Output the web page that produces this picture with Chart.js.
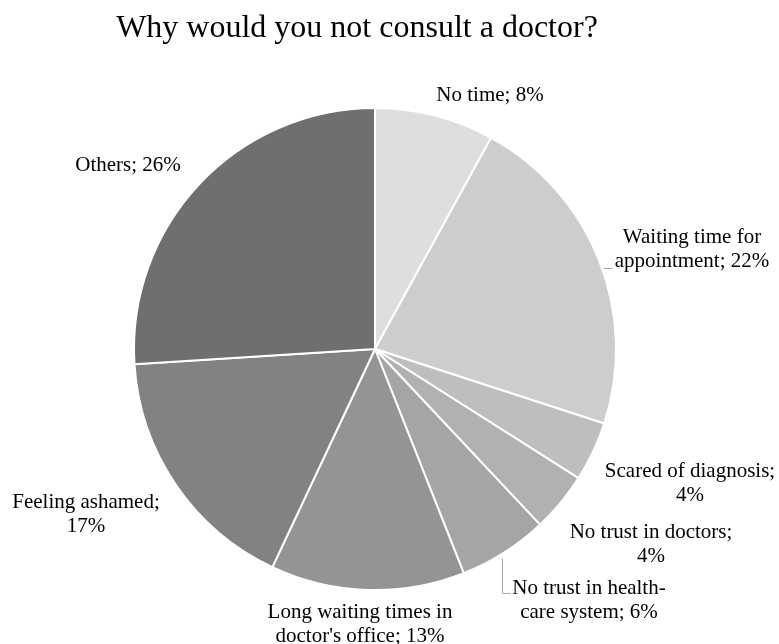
<!DOCTYPE html>
<html>
<head>
<meta charset="utf-8">
<title>Why would you not consult a doctor?</title>
<script src="https://cdn.jsdelivr.net/npm/chart.js@4.4.1/dist/chart.umd.min.js"></script>
<style>
  html, body { margin: 0; padding: 0; background: #fff; }
  #wrap { width: 779px; height: 644px; position: relative; }
</style>
</head>
<body>
<div id="wrap"><canvas id="pieChart"></canvas></div>
<script>
// =================== DATA ===================
const categories = [
  "No time",
  "Waiting time for appointment",
  "Scared of diagnosis",
  "No trust in doctors",
  "No trust in health-care system",
  "Long waiting times in doctor's office",
  "Feeling ashamed",
  "Others"
];
const shares = [8, 22, 4, 4, 6, 13, 17, 26];
const sliceColors = ["#dedede", "#cdcdcd", "#bebebe", "#b1b1b1", "#a5a5a5", "#949494", "#828282", "#6f6f6f"];

const chartTitle = "Why would you not consult a doctor?";

// label placement (text centre, first line), wrap width, optional leader line
const labelLayout = [
  { x: 490, y: 95,  wrap: 200 },
  { x: 692, y: 237, wrap: 165, leader: [[603, 268], [612, 268]] },
  { x: 690, y: 471, wrap: 175 },
  { x: 651, y: 532, wrap: 175 },
  { x: 589, y: 588, wrap: 160, leader: [[502, 558], [502, 593], [510, 593]] },
  { x: 360, y: 612, wrap: 195 },
  { x: 86,  y: 502, wrap: 170 },
  { x: 128, y: 165, wrap: 200 }
];

const FONT = "'Liberation Serif', 'Times New Roman', serif";

// wrap at spaces, and after hyphens like Excel does
function wrapText(ctx, text, maxWidth) {
  const tokens = text.match(/[^\s-]+-?|\s+/g);
  const lines = [];
  let line = "";
  tokens.forEach(tok => {
    if (/^\s+$/.test(tok)) {
      line += tok;
      return;
    }
    const test = line + tok;
    if (line.trim() && ctx.measureText(test.trim()).width > maxWidth) {
      lines.push(line.trim());
      line = tok;
    } else {
      line = test;
    }
  });
  if (line.trim()) lines.push(line.trim());
  return lines;
}

// =================== LABELS PLUGIN ===================
const labelsPlugin = {
  id: "pieLabels",
  afterDraw(chart) {
    const ctx = chart.ctx;
    ctx.save();

    // title
    ctx.fillStyle = "#000";
    ctx.font = "32px " + FONT;
    ctx.textAlign = "center";
    ctx.textBaseline = "middle";
    ctx.fillText(chartTitle, 357, 29);

    // leader lines
    ctx.strokeStyle = "#a6a6a6";
    ctx.lineWidth = 1;
    labelLayout.forEach(l => {
      if (!l.leader) return;
      ctx.beginPath();
      l.leader.forEach((p, i) => {
        if (i === 0) ctx.moveTo(p[0] + 0.5, p[1] + 0.5);
        else ctx.lineTo(p[0] + 0.5, p[1] + 0.5);
      });
      ctx.stroke();
    });

    // data labels
    ctx.font = "21px " + FONT;
    ctx.fillStyle = "#000";
    categories.forEach((cat, i) => {
      const l = labelLayout[i];
      const text = `${cat}; ${shares[i]}%`;
      const lines = wrapText(ctx, text, l.wrap);
      lines.forEach((ln, j) => {
        ctx.fillText(ln, l.x, l.y + j * 24.5);
      });
    });

    ctx.restore();
  }
};

// =================== CHART ===================
function createPieChart() {
  const ctx = document.getElementById("pieChart");

  new Chart(ctx, {
    type: "pie",
    data: {
      labels: categories,
      datasets: [{
        data: shares,
        backgroundColor: sliceColors,
        borderColor: "#ffffff",
        borderWidth: 2
      }]
    },
    options: {
      responsive: true,
      maintainAspectRatio: false,
      animation: false,
      rotation: 0,
      layout: {
        padding: { top: 107, bottom: 53, left: 133, right: 162 }
      },
      plugins: {
        legend: { display: false },
        title: { display: false },
        tooltip: { enabled: false }
      }
    },
    plugins: [labelsPlugin]
  });
}

window.onload = createPieChart;
</script>
</body>
</html>
